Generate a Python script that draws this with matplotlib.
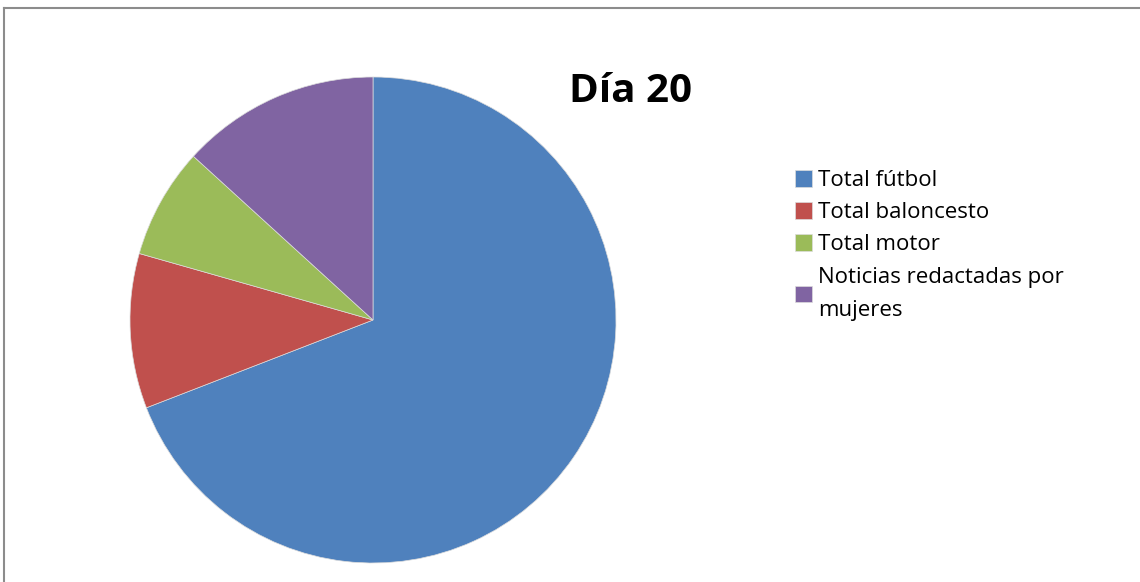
import matplotlib.pyplot as plt
from matplotlib.lines import Line2D

categories = ["Total fútbol", "Total baloncesto", "Total motor",
              "Noticias redactadas por\nmujeres"]
values = [47, 7, 5, 9]
colors = ["#4F81BD", "#C0504D", "#9BBB59", "#8064A2"]

plt.rcParams['font.family'] = ['Open Sans', 'DejaVu Sans']


def main():
    fig = plt.figure(figsize=(11.4, 5.82), dpi=100)

    # pie area, center ~ (373, 320) px, radius ~243 px
    ax = fig.add_axes([130 / 1140, 1 - 563 / 582, 486 / 1140, 486 / 582])
    wedges, _ = ax.pie(values, colors=colors, startangle=90, counterclock=False,
                       radius=1, wedgeprops=dict(linewidth=0.5, edgecolor="#dcdcdc"))
    ax.set_xlim(-1, 1)
    ax.set_ylim(-1, 1)
    ax.set_aspect("equal")
    ax.axis("off")

    fig.text(630 / 1140, 1 - 102 / 582, "Día 20", ha="center", va="baseline",
             fontsize=29, fontweight="bold")

    leg = fig.legend(wedges, categories, loc="upper left",
                     bbox_to_anchor=(795 / 1140, 1 - 170 / 582), frameon=False,
                     fontsize=16, handlelength=0.78, handleheight=0.78,
                     handletextpad=0.27, labelspacing=0.5, borderpad=0,
                     borderaxespad=0)
    for t in leg.get_texts():
        t.set_linespacing(1.77)

    # chart frame (only top and left edges visible)
    fig.add_artist(Line2D([4 / 1140, 1], [1 - 7.5 / 582, 1 - 7.5 / 582],
                          transform=fig.transFigure, color="#8c8c8c", lw=1.5))
    fig.add_artist(Line2D([4 / 1140, 4 / 1140], [0, 1 - 7.5 / 582],
                          transform=fig.transFigure, color="#8c8c8c", lw=1.5))

    fig.savefig("out.png", dpi=100)


if __name__ == "__main__":
    main()
